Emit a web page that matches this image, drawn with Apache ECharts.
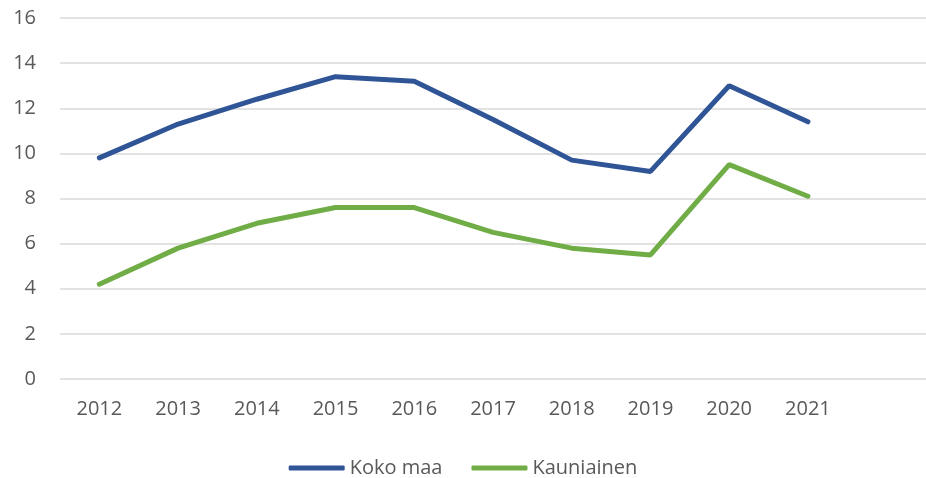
<!DOCTYPE html>
<html>
<head>
<meta charset="utf-8">
<script src="https://cdn.jsdelivr.net/npm/echarts@6/dist/echarts.min.js"></script>
<style>
  html, body { margin: 0; padding: 0; background: #fff; }
  #main { width: 926px; height: 478px; }
</style>
</head>
<body>
<div id="main"></div>
<script>
  // vuodet (viimeinen tyhjä sarake kuten alkuperäisessä)
  const years = ['2012', '2013', '2014', '2015', '2016', '2017', '2018', '2019', '2020', '2021', ''];
  const kokoMaa = [9.8, 11.3, 12.4, 13.4, 13.2, 11.5, 9.7, 9.2, 13.0, 11.4];
  const kauniainen = [4.2, 5.8, 6.9, 7.6, 7.6, 6.5, 5.8, 5.5, 9.5, 8.1];
  const seriesNames = ['Koko maa', 'Kauniainen'];
  const colors = ['#2F5597', '#70AD47'];

  const chart = echarts.init(document.getElementById('main'));
  const font = 'Open Sans';

  const option = {
    animation: false,
    color: colors,
    grid: { left: 60, right: 0, top: 18, bottom: 99, containLabel: false },
    legend: {
      data: seriesNames,
      bottom: -5,
      left: 'center',
      itemWidth: 56,
      itemHeight: 5,
      itemGap: 29,
      icon: 'roundRect',
      textStyle: { fontFamily: font, fontSize: 20, color: '#595959' }
    },
    xAxis: {
      type: 'category',
      data: years,
      boundaryGap: true,
      axisLine: { show: false },
      axisTick: { show: false },
      axisLabel: { fontFamily: font, fontSize: 20, color: '#595959', margin: 20 }
    },
    yAxis: {
      type: 'value',
      min: 0,
      max: 16,
      interval: 2,
      axisLine: { show: false },
      axisTick: { show: false },
      axisLabel: { fontFamily: font, fontSize: 20, color: '#595959', margin: 24 },
      splitLine: { lineStyle: { color: '#D9D9D9', width: 1.5 } }
    },
    series: [
      { name: seriesNames[0], type: 'line', data: kokoMaa, symbol: 'none', lineStyle: { width: 5, cap: 'round' } },
      { name: seriesNames[1], type: 'line', data: kauniainen, symbol: 'none', lineStyle: { width: 5, cap: 'round' } }
    ]
  };

  chart.setOption(option);
</script>
</body>
</html>
